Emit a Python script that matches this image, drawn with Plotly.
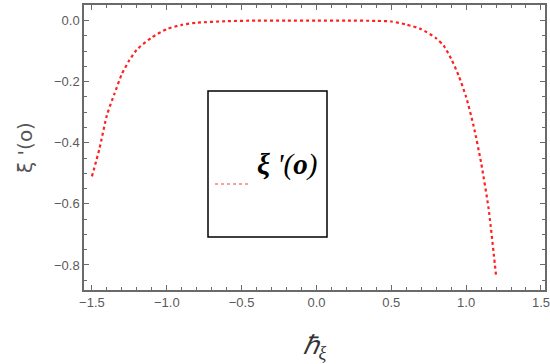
import plotly.graph_objects as go

# values
h_xi = [-1.50, -1.45, -1.40, -1.35, -1.30, -1.25, -1.20, -1.10, -1.00, -0.90,
        -0.80, -0.60, -0.40, -0.20, 0.00, 0.20, 0.40, 0.50, 0.60, 0.70,
        0.80, 0.85, 0.90, 0.95, 1.00, 1.05, 1.10, 1.15, 1.20]
xi_prime = [-0.510, -0.420, -0.310, -0.240, -0.175, -0.130, -0.095, -0.055, -0.028, -0.014,
            -0.007, -0.002, 0.000, 0.000, 0.000, 0.000, -0.001, -0.003, -0.013, -0.028,
            -0.058, -0.082, -0.125, -0.180, -0.250, -0.345, -0.465, -0.615, -0.835]

x_ticks = [-1.5, -1.0, -0.5, 0.0, 0.5, 1.0, 1.5]
x_tick_text = ["\u22121.5", "\u22121.0", "\u22120.5", "0.0", "0.5", "1.0", "1.5"]
y_ticks = [0.0, -0.2, -0.4, -0.6, -0.8]
y_tick_text = ["0.0", "\u22120.2", "\u22120.4", "\u22120.6", "\u22120.8"]

frame_col = "#6a6a6a"
tick_font = dict(family="Liberation Sans, Arial", size=13, color="#5a5a5a")

fig = go.Figure()
fig.add_trace(go.Scatter(
    x=h_xi, y=xi_prime, mode="lines", line_shape="spline",
    line=dict(color="#ff2020", width=2.2, dash="dot", smoothing=0.6),
    name="\u03be '(o)", showlegend=False, hoverinfo="skip",
))

axis_common = dict(
    showline=True, linecolor=frame_col, linewidth=1.5, mirror="allticks",
    ticks="inside", ticklen=5, tickwidth=1, tickcolor=frame_col,
    showgrid=False, zeroline=False, tickfont=tick_font, automargin=False,
    ticklabeloverflow="allow",
)

fig.update_xaxes(
    range=[-1.553, 1.527], tickvals=x_ticks, ticktext=x_tick_text,
    minor=dict(dtick=0.1, ticks="inside", ticklen=3, tickcolor=frame_col, showgrid=False),
    title=dict(text="<i>\u210f<sub>\u03be</sub></i>", standoff=26,
               font=dict(family="Liberation Serif", size=26, color="#333333")),
    **axis_common,
)
fig.update_yaxes(
    range=[-0.882, 0.051], tickvals=y_ticks, ticktext=y_tick_text,
    minor=dict(dtick=0.05, ticks="inside", ticklen=3, tickcolor=frame_col, showgrid=False),
    title=dict(text="\u03be '(o)", standoff=16,
               font=dict(family="DejaVu Sans", size=20, color="#555555")),
    **axis_common,
)

# inset legend box, plot area spans x 84..545, y 5..290 in page pixels
px = lambda sx: (sx - 84) / 461
py = lambda sy: (290 - sy) / 285
fig.add_shape(type="rect", xref="paper", yref="paper",
              x0=px(208), x1=px(327), y0=py(237), y1=py(91),
              line=dict(color="black", width=1.5), fillcolor="white", layer="above")
fig.add_shape(type="line", xref="paper", yref="paper",
              x0=px(215), x1=px(249), y0=py(184), y1=py(184),
              line=dict(color="#f4a0a0", width=2, dash="dot"), layer="above")
fig.add_annotation(xref="paper", yref="paper", x=px(287), y=py(164),
                   text="<i><b>\u03be</b> '(<b>o</b>)</i>", showarrow=False,
                   font=dict(family="Liberation Serif", size=29, color="black"))

fig.update_layout(
    width=550, height=364,
    margin=dict(l=84, r=5, t=5, b=74),
    plot_bgcolor="white", paper_bgcolor="white",
)

# drop the default 8px page margin so the figure sits at the window's corner
fig.write_html("out.html", config={"displayModeBar": False},
               post_script="document.body.style.margin='0';")
